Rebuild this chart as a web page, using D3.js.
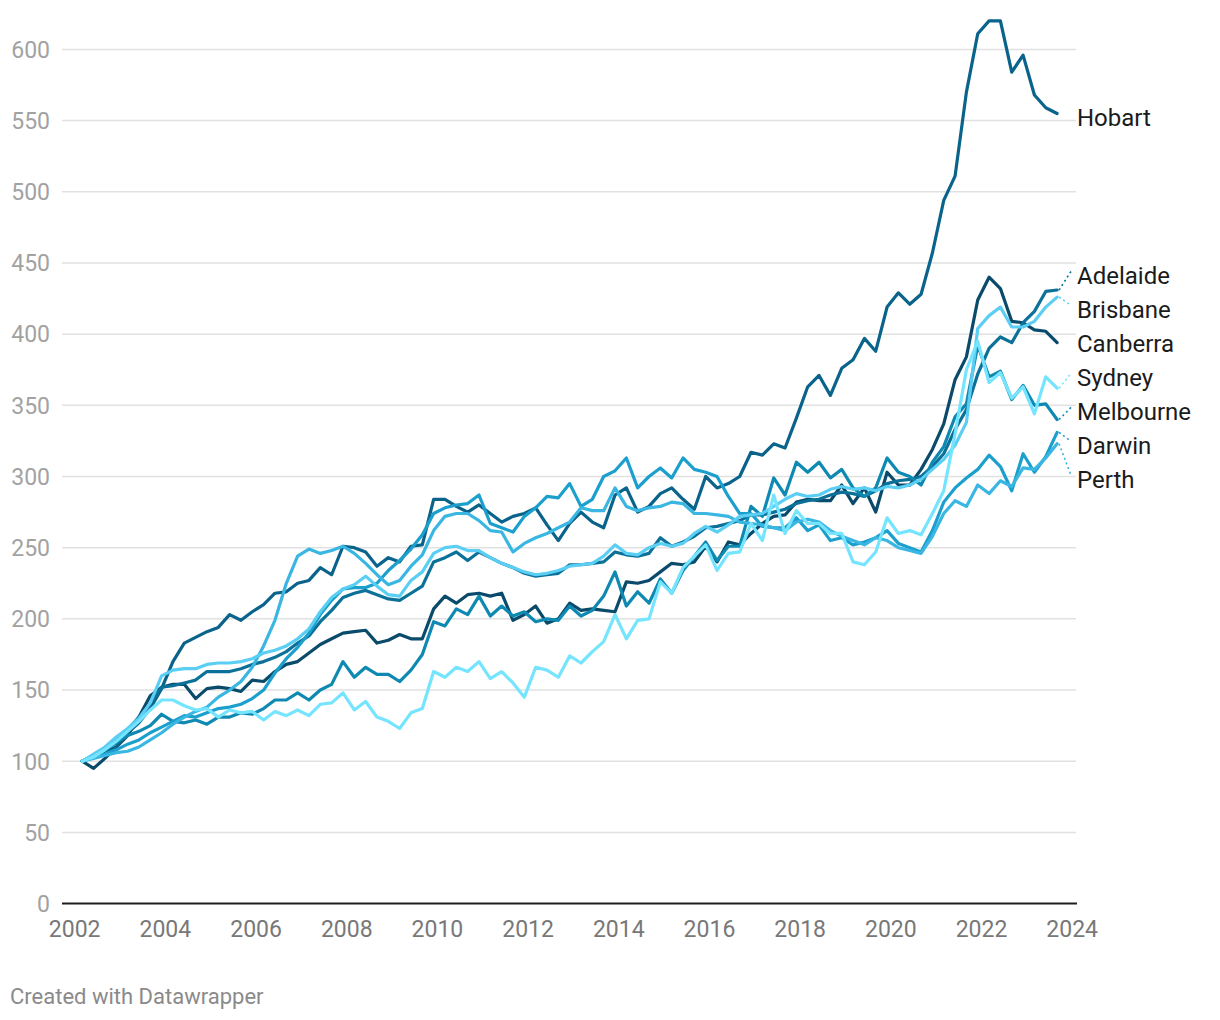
<!DOCTYPE html>
<html><head><meta charset="utf-8">
<script src="https://cdn.jsdelivr.net/npm/d3@7"></script>
<style>
html,body{margin:0;padding:0;background:#fff;}
svg text{font-family:Roboto,"Noto Sans",sans-serif;}
</style></head><body>
<svg id="chart" width="1220" height="1020"></svg>
<script>
// Quarterly index, 2002 Q1 = 100 (87 quarters, Q1 2002 - Q3 2023)
const cities = ["Canberra","Hobart","Adelaide","Melbourne","Darwin","Perth","Brisbane","Sydney"];
const hobart = [100,103,107,110,120,127,137,151,170,183,
187,191,194,203,199,205,210,218,219,225,
227,236,231,251,250,247,237,243,240,251,
252,284,284,279,275,280,274,268,272,274,
278,266,255,267,275,268,264,287,292,275,
279,288,292,284,277,300,292,295,300,317,
315,323,320,341,363,371,357,376,382,397,
388,419,429,421,428,457,494,511,570,611,
620,620,584,596,568,559,555];
const canberra = [100,95,102,110,118,131,146,152,154,154,
144,151,152,151,149,157,156,163,168,170,
176,182,186,190,191,192,183,185,189,186,
186,207,216,211,217,218,216,218,199,203,
209,197,200,211,206,207,206,205,226,225,
227,233,239,238,240,251,240,254,252,260,
267,272,273,282,284,283,283,294,281,292,
275,303,294,294,305,319,337,368,384,424,
440,432,409,408,403,402,394];
const adelaide = [100,104,108,115,122,131,140,152,153,155,
157,163,163,163,165,168,170,173,177,183,
188,198,206,215,218,220,217,214,213,218,
223,240,243,247,241,247,243,239,236,232,
230,231,232,238,238,239,240,247,245,244,
246,257,251,254,258,264,265,267,269,273,
273,275,277,281,283,284,287,289,288,286,
290,295,297,298,300,307,316,333,347,372,
390,398,394,408,416,430,431];
const brisbane = [100,105,110,117,123,130,141,160,164,165,
165,168,169,169,170,172,176,178,181,186,
193,205,215,221,224,230,223,217,216,227,
233,246,250,251,248,248,243,239,236,233,
231,232,234,237,238,239,244,252,246,245,
250,253,251,253,260,265,261,266,272,273,
274,279,284,288,286,287,291,293,291,292,
290,293,292,294,298,305,312,322,338,404,
413,419,405,405,409,419,426];
const sydney = [100,103,108,114,121,128,136,143,143,139,
136,137,131,136,134,135,129,135,132,136,
132,140,141,148,136,142,131,128,123,134,
137,163,159,166,163,170,158,163,155,145,
166,164,159,174,169,177,184,203,186,199,
200,226,218,236,244,252,234,246,247,267,
255,287,260,276,267,267,260,260,240,238,
247,271,260,262,259,274,290,330,375,395,
366,373,355,363,344,370,362];
const melbourne = [100,104,108,113,118,121,125,133,128,127,
129,126,131,131,134,133,137,143,143,148,
143,150,154,170,159,166,161,161,156,164,
175,198,195,207,203,216,202,209,202,205,
198,200,199,209,202,206,216,233,209,219,
211,228,218,234,244,254,241,251,251,279,
272,299,287,310,303,310,299,305,292,286,
292,313,303,300,294,310,321,342,351,392,
370,374,354,364,350,351,340];
const darwin = [100,103,105,108,112,115,120,124,128,132,
131,134,137,138,140,144,150,162,172,180,
190,203,213,221,222,222,225,234,241,249,
259,274,278,280,281,287,267,264,261,272,
278,286,285,295,279,284,300,304,313,292,
300,306,299,313,305,303,300,286,274,274,
265,264,264,271,262,266,255,257,252,254,
257,262,253,250,247,262,282,292,299,305,
315,307,290,316,303,314,331];
const perth = [100,102,104,106,107,110,115,120,126,131,
135,138,145,150,156,166,181,199,225,244,
249,246,248,251,246,239,231,224,227,237,
245,262,272,274,274,269,262,261,247,253,
257,260,264,268,278,276,276,292,279,276,
278,279,282,281,274,274,273,272,268,267,
266,264,262,268,270,268,262,258,255,252,
257,255,250,248,246,258,274,283,279,294,
288,297,293,306,305,313,323];
const seriesValues = {Hobart:hobart, Canberra:canberra, Adelaide:adelaide, Brisbane:brisbane,
  Sydney:sydney, Melbourne:melbourne, Darwin:darwin, Perth:perth};
const colors = {Canberra:"#0a4a6b", Hobart:"#0a638b", Adelaide:"#0b7199", Melbourne:"#0e8ab2",
  Darwin:"#1b9fcd", Perth:"#3ab6e2", Brisbane:"#5bcef4", Sydney:"#74e4ff"};
const yTicks = [0,50,100,150,200,250,300,350,400,450,500,550,600];
const xTicks = [2002,2004,2006,2008,2010,2012,2014,2016,2018,2020,2022,2024];
const firstQuarterDate = 2002 + 2/12;   // quarter dated at its last month
const quarterLength = 0.25;

const svg = d3.select("#chart");
const x = d3.scaleLinear().domain([2002, 2024]).range([74.7, 1072.2]);
const y = d3.scaleLinear().domain([0, 600]).range([903.6, 49.4]);
const plotLeft = 62, plotRight = 1076;

svg.append("g").selectAll("line").data(yTicks.filter(t => t > 0)).join("line")
  .attr("x1", plotLeft).attr("x2", plotRight)
  .attr("y1", d => y(d)).attr("y2", d => y(d))
  .attr("stroke", "#e1e1e1").attr("stroke-width", 1.5);

svg.append("g").selectAll("text").data(yTicks).join("text")
  .attr("x", 50).attr("y", d => y(d) + 8.3)
  .attr("text-anchor", "end").attr("fill", "#a2a2a2")
  .attr("font-size", 23).text(d => d);

svg.append("g").selectAll("text").data(xTicks).join("text")
  .attr("x", d => x(d)).attr("y", 937)
  .attr("text-anchor", "middle").attr("fill", "#787878")
  .attr("font-size", 23).text(d => d);

svg.append("line").attr("x1", plotLeft).attr("x2", plotRight + 1)
  .attr("y1", y(0)).attr("y2", y(0)).attr("stroke", "#1e1e1e").attr("stroke-width", 2);

const dateOf = i => firstQuarterDate + i * quarterLength;
const line = d3.line().x((d, i) => x(dateOf(i))).y(d => y(d));

svg.append("g").selectAll("path").data(cities).join("path")
  .attr("d", c => line(seriesValues[c]))
  .attr("fill", "none").attr("stroke", c => colors[c])
  .attr("stroke-width", 3.2).attr("stroke-linejoin", "round").attr("stroke-linecap", "round");

const labels = cities.map(c => {
  const v = seriesValues[c];
  const i = v.length - 1;
  return {city: c, xEnd: x(dateOf(i)), yEnd: y(v[i]), pos: y(v[i])};
}).sort((a, b) => a.yEnd - b.yEnd);
const gap = 34;
for (let iter = 0; iter < 400; iter++) {
  for (let k = 1; k < labels.length; k++) {
    const d = labels[k].pos - labels[k - 1].pos;
    if (d < gap) {
      const s = (gap - d) / 2;
      labels[k].pos += s; labels[k - 1].pos -= s;
    }
  }
}
const lg = svg.append("g");
labels.forEach(l => {
  if (Math.abs(l.pos - l.yEnd) > 5) {
    lg.append("line").attr("x1", l.xEnd + 2).attr("y1", l.yEnd)
      .attr("x2", 1071).attr("y2", l.pos)
      .attr("stroke", colors[l.city]).attr("stroke-width", 1.6)
      .attr("stroke-dasharray", "2,3");
  }
  lg.append("text").attr("x", 1077).attr("y", l.pos + 12.5)
    .attr("font-size", 24).attr("fill", "#1b1b1b").text(l.city);
});

svg.append("text").attr("x", 10).attr("y", 1004).attr("font-size", 22)
  .attr("fill", "#8a8a8a").text("Created with Datawrapper");
</script>
</body></html>
